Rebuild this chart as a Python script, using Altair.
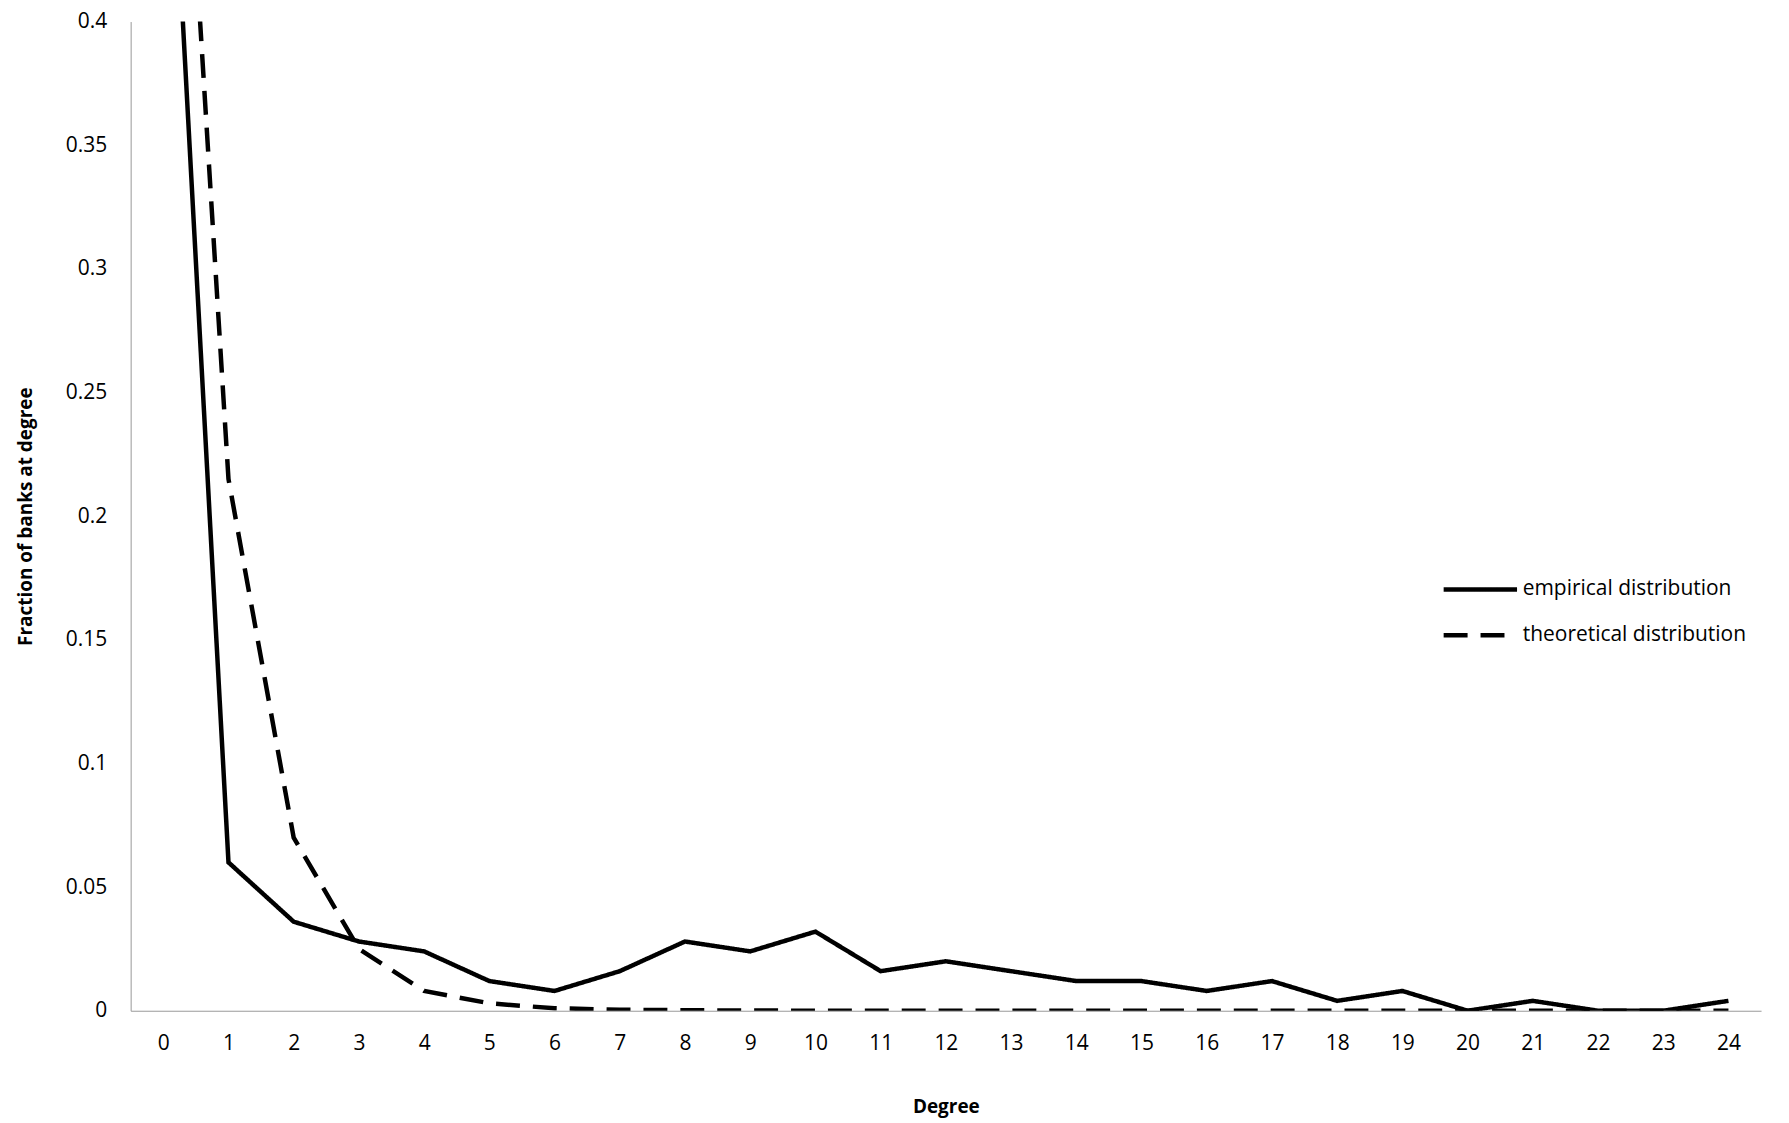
import altair as alt
import pandas as pd

degrees = list(range(25))
empirical = [0.546, 0.06, 0.036, 0.028, 0.024, 0.012, 0.008, 0.016, 0.028, 0.024, 0.032,
             0.016, 0.02, 0.016, 0.012, 0.012, 0.008, 0.012, 0.004, 0.008, 0.0, 0.004,
             0.0, 0.0, 0.004]
theoretical = [0.64, 0.215, 0.07, 0.025, 0.008, 0.003, 0.001, 0.0004, 0.0002, 0.0001, 0.0,
               0.0, 0.0, 0.0, 0.0, 0.0, 0.0, 0.0, 0.0, 0.0, 0.0, 0.0, 0.0, 0.0, 0.0]

df = pd.concat([
    pd.DataFrame({"degree": degrees, "value": empirical, "series": "empirical distribution"}),
    pd.DataFrame({"degree": degrees, "value": theoretical, "series": "theoretical distribution"}),
])

font = "Open Sans"

chart = (
    alt.Chart(df)
    .mark_line(clip=True, strokeWidth=4.5, color="black")
    .encode(
        x=alt.X("degree:O", title="Degree",
                scale=alt.Scale(type="point", padding=0.5),
                axis=alt.Axis(labelAngle=0, ticks=False, domainColor="#999999",
                              labelFontSize=21, labelPadding=22, titleFontSize=19,
                              titlePadding=44, labelFont=font, titleFont=font)),
        y=alt.Y("value:Q", title="Fraction  of banks at degree",
                scale=alt.Scale(domain=[0, 0.4]),
                axis=alt.Axis(values=[0, 0.05, 0.1, 0.15, 0.2, 0.25, 0.3, 0.35, 0.4],
                              format="~g",
                              grid=False, ticks=False, domainColor="#999999",
                              labelFontSize=21, labelPadding=24, titleFontSize=19,
                              titlePadding=30, labelFont=font, titleFont=font)),
        strokeDash=alt.StrokeDash(
            "series:N",
            scale=alt.Scale(domain=["empirical distribution", "theoretical distribution"],
                            range=[[1, 0], [24, 13]]),
            legend=alt.Legend(title=None, orient="none", legendX=1305, legendY=544,
                              symbolSize=2116, symbolStrokeWidth=4.5, symbolStrokeColor="black",
                              symbolType="M-0.6,0H2.6", labelOffset=40,
                              labelFontSize=21, labelFont=font, rowPadding=10,
                              labelLimit=0),
        ),
    )
    .properties(width=1635, height=992,
                padding={"left": 123, "top": 12, "right": 20, "bottom": 110},
                autosize="none")
    .configure_axisY(titleFontWeight="bold")
    .configure_axisX(titleFontWeight="bold")
    .configure_view(stroke=None)
)

chart.save("out.html", embed_options={"renderer": "svg", "actions": False})
